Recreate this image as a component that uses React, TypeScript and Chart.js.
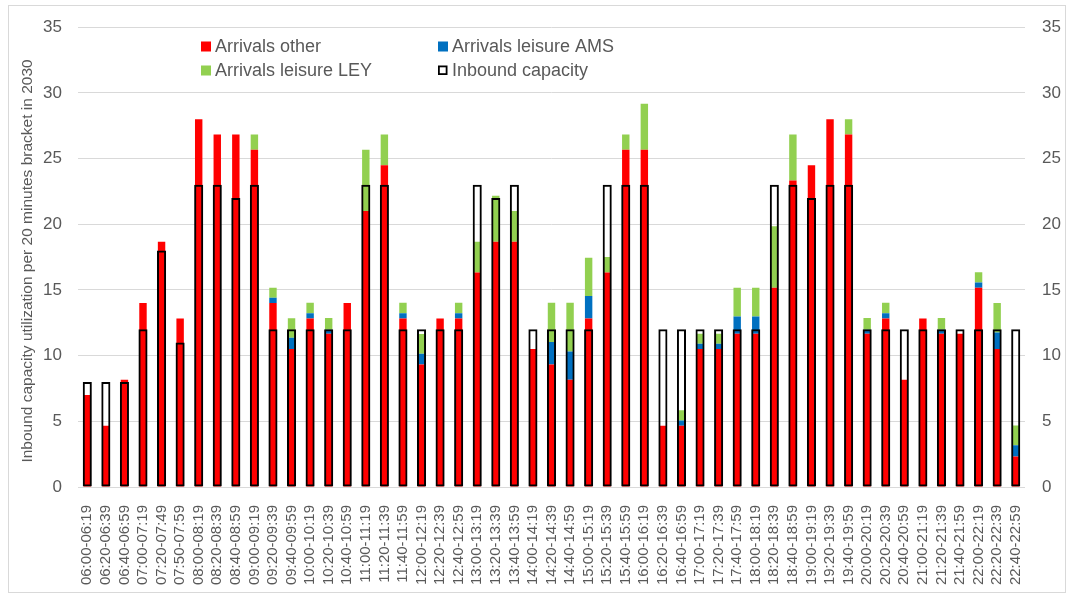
import React, { useEffect, useRef } from 'react';
import { Chart, registerables } from 'chart.js';

Chart.register(...registerables);

const labels = [
  '06:00-06:19', '06:20-06:39', '06:40-06:59', '07:00-07:19', '07:20-07:49', '07:50-07:59',
  '08:00-08:19', '08:20-08:39', '08:40-08:59', '09:00-09:19', '09:20-09:39', '09:40-09:59',
  '10:00-10:19', '10:20-10:39', '10:40-10:59', '11:00-11:19', '11:20-11:39', '11:40-11:59',
  '12:00-12:19', '12:20-12:39', '12:40-12:59', '13:00-13:19', '13:20-13:39', '13:40-13:59',
  '14:00-14:19', '14:20-14:39', '14:40-14:59', '15:00-15:19', '15:20-15:39', '15:40-15:59',
  '16:00-16:19', '16:20-16:39', '16:40-16:59', '17:00-17:19', '17:20-17:39', '17:40-17:59',
  '18:00-18:19', '18:20-18:39', '18:40-18:59', '19:00-19:19', '19:20-19:39', '19:40-19:59',
  '20:00-20:19', '20:20-20:39', '20:40-20:59', '21:00-21:19', '21:20-21:39', '21:40-21:59',
  '22:00-22:19', '22:20-22:39', '22:40-22:59',
];

const arrivalsOther = [
  7, 4.67, 8.17, 14, 18.67, 12.83,
  28, 26.83, 26.83, 25.67, 14, 10.5,
  12.83, 11.67, 14, 21, 24.5, 12.83,
  9.33, 12.83, 12.83, 16.33, 18.67, 18.67,
  10.5, 9.33, 8.17, 12.83, 16.33, 25.67,
  25.67, 4.67, 4.67, 10.5, 10.5, 11.67,
  11.67, 15.17, 23.33, 24.5, 28, 26.83,
  11.67, 12.83, 8.17, 12.83, 11.67, 11.67,
  15.17, 10.5, 2.33,
];

const arrivalsLeisureAMS = [
  0, 0, 0, 0, 0, 0,
  0, 0, 0, 0, 0.4, 0.87,
  0.4, 0.3, 0, 0, 0, 0.4,
  0.82, 0, 0.4, 0, 0, 0,
  0, 1.7, 2.15, 1.7, 0, 0,
  0, 0, 0.4, 0.4, 0.4, 1.3,
  1.3, 0, 0, 0, 0, 0,
  0.3, 0.4, 0, 0, 0.3, 0,
  0.4, 1.27, 0.85,
];

const arrivalsLeisureLEY = [
  0, 0, 0, 0, 0, 0,
  0, 0, 0, 1.17, 0.77, 1.47,
  0.8, 0.9, 0, 4.67, 2.33, 0.8,
  1.5, 0, 0.8, 2.33, 3.5, 2.33,
  0, 3.0, 3.7, 2.93, 1.17, 1.17,
  3.5, 0, 0.77, 0.77, 0.77, 2.2,
  2.2, 4.67, 3.5, 0, 0, 1.17,
  0.9, 0.8, 0, 0, 0.9, 0,
  0.77, 2.23, 1.5,
];

const inboundCapacity = [
  8, 8, 8, 12, 18, 11,
  23, 23, 22, 23, 12, 12,
  12, 12, 12, 23, 23, 12,
  12, 12, 12, 23, 22, 23,
  12, 12, 12, 12, 23, 23,
  23, 12, 12, 12, 12, 12,
  12, 23, 23, 22, 23, 23,
  12, 12, 12, 12, 12, 12,
  12, 12, 12,
];

const seriesNames = ['Arrivals other', 'Arrivals leisure AMS', 'Arrivals leisure LEY', 'Inbound capacity'];
const yTitle = 'Inbound capacity utilization per 20 minutes bracket in 2030';
const yMin = 0;
const yMax = 35;
const yStep = 5;

const FONT = "'Liberation Sans', Arial, sans-serif";
const TEXT = '#595959';
const RED = '#FF0000';
const BLUE = '#0070C0';
const GREEN = '#92D050';

const decorPlugin = {
  id: 'decor',
  beforeDraw(chart: any) {
    const ctx = chart.ctx;
    ctx.save();
    ctx.fillStyle = '#FFFFFF';
    ctx.fillRect(0, 0, chart.width, chart.height);
    ctx.strokeStyle = '#D9D9D9';
    ctx.lineWidth = 1;
    ctx.strokeRect(8.5, 5.5, 1057, 587);
    ctx.restore();
  },
  afterDraw(chart: any) {
    const ctx = chart.ctx;
    ctx.save();
    // Y axis title
    ctx.translate(32, 261);
    ctx.rotate(-Math.PI / 2);
    ctx.font = `15.5px ${FONT}`;
    ctx.fillStyle = TEXT;
    ctx.textAlign = 'center';
    ctx.textBaseline = 'alphabetic';
    ctx.fillText(yTitle, 0, 0);
    ctx.restore();

    // Legend
    const items = [
      { text: seriesNames[0], x: 201, base: 52, fill: RED, stroke: null },
      { text: seriesNames[1], x: 438, base: 52, fill: BLUE, stroke: null },
      { text: seriesNames[2], x: 201, base: 76, fill: GREEN, stroke: null },
      { text: seriesNames[3], x: 438, base: 76, fill: '#FFFFFF', stroke: '#000000' },
    ];
    ctx.save();
    ctx.font = `18px ${FONT}`;
    ctx.textAlign = 'left';
    ctx.textBaseline = 'alphabetic';
    for (const it of items) {
      if (it.stroke) {
        ctx.fillStyle = it.fill;
        ctx.fillRect(it.x, it.base - 10.5, 9.5, 9.5);
        ctx.strokeStyle = it.stroke;
        ctx.lineWidth = 1.8;
        ctx.strokeRect(it.x + 0.9, it.base - 9.6, 7.7, 7.7);
      } else {
        ctx.fillStyle = it.fill;
        ctx.fillRect(it.x, it.base - 10.5, 10, 10);
      }
      ctx.fillStyle = TEXT;
      ctx.fillText(it.text, it.x + 14, it.base);
    }
    ctx.restore();
  },
};

export default function App() {
  const ref = useRef<HTMLCanvasElement>(null);

  useEffect(() => {
    if (!ref.current) return;
    const arrivalCommon = {
      stack: 'arrivals',
      grouped: false,
      barPercentage: 0.4,
      categoryPercentage: 1,
      order: 1,
      borderWidth: 0,
    };
    const tickFont = { family: FONT, size: 17 };
    const chart = new Chart(ref.current, {
      type: 'bar',
      data: {
        labels,
        datasets: [
          { ...arrivalCommon, label: seriesNames[0], data: arrivalsOther, backgroundColor: RED },
          { ...arrivalCommon, label: seriesNames[1], data: arrivalsLeisureAMS, backgroundColor: BLUE },
          { ...arrivalCommon, label: seriesNames[2], data: arrivalsLeisureLEY, backgroundColor: GREEN },
          {
            label: seriesNames[3],
            data: inboundCapacity,
            stack: 'capacity',
            grouped: false,
            barPercentage: 0.49,
            categoryPercentage: 1,
            order: 0,
            backgroundColor: 'rgba(0,0,0,0)',
            borderColor: '#000000',
            borderWidth: 2,
            borderSkipped: false,
          },
        ] as any,
      },
      options: {
        responsive: false,
        animation: false,
        devicePixelRatio: 1,
        layout: { padding: { left: 8, right: 0, top: 19, bottom: 0 } },
        plugins: {
          legend: { display: false },
          tooltip: { enabled: false },
        },
        scales: {
          x: {
            grid: { display: false },
            border: { display: false },
            ticks: {
              autoSkip: false,
              minRotation: 90,
              maxRotation: 90,
              padding: 10,
              color: TEXT,
              font: { family: FONT, size: 15 },
            },
            afterFit: (s: any) => { s.height = 107; },
          },
          y: {
            stacked: true,
            min: yMin,
            max: yMax,
            ticks: { stepSize: yStep, padding: 16, color: TEXT, font: tickFont },
            grid: { color: '#D9D9D9', lineWidth: 1, drawTicks: false },
            border: { display: false },
            afterFit: (s: any) => { s.width = 70; },
          },
          y2: {
            position: 'right',
            min: yMin,
            max: yMax,
            ticks: { stepSize: yStep, padding: 17, color: TEXT, font: tickFont },
            grid: { display: false, drawTicks: false },
            border: { display: false },
            afterFit: (s: any) => { s.width = 48; },
          },
        } as any,
      },
      plugins: [decorPlugin],
    });
    return () => chart.destroy();
  }, []);

  return (
    <div style={{ position: 'absolute', left: 0, top: 0, width: 1073, height: 594 }}>
      <canvas ref={ref} width={1073} height={594} style={{ display: 'block' }} />
    </div>
  );
}
